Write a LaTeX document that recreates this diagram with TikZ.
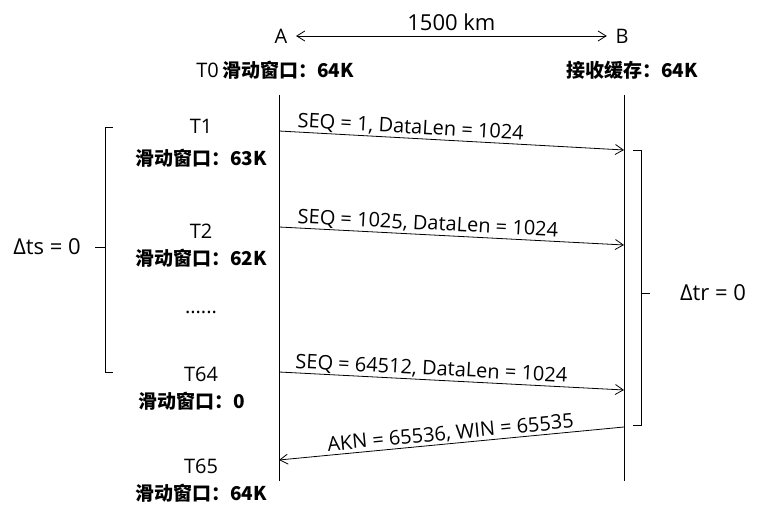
\documentclass[tikz,border=0pt]{standalone}
\usepackage{fontspec}
\setmainfont{Open Sans}
\newfontfamily\cjk{Noto Sans CJK SC}
\usetikzlibrary{
  calc, % For coordinate calculations
  arrows.meta % For arrow tips
}

\begin{document}
\begin{tikzpicture}[
    x=1pt, y=-1pt,
    font=\fontsize{20}{24}\selectfont,
    line width=0.8pt, % Default line thickness
    >={Straight Barb[length=8pt, width=10pt]}, % Default arrow tip
    lifeline/.style={}, % Style for the two time lines
    msg/.style={->}, % Style for segment arrows
    msglabel/.style={sloped, above, inner sep=1pt}, % Style for arrow texts
    bracket/.style={line width=0.7pt}, % Style for the interval brackets
    big/.style={font=\fontsize{22}{26}\selectfont}, % Larger plain texts
    win/.style={font=\fontsize{19}{22}\selectfont\cjk\bfseries}, % Window texts
  ]

  % Rahmen
  \useasboundingbox (0,0) rectangle (761,510);

  % Koordinaten der Zeitlinien
  \coordinate (A0) at (279,95);
  \coordinate (A1) at (279,481);
  \coordinate (B0) at (624,95);
  \coordinate (B1) at (624,481);

  % Koordinaten der Segmente
  \coordinate (As1) at (279,131);
  \coordinate (Br1) at (624,150);
  \coordinate (As2) at (279,227);
  \coordinate (Br2) at (624,245);
  \coordinate (As3) at (279,372);
  \coordinate (Br3) at (624,390);
  \coordinate (Bs4) at (624,427);
  \coordinate (Ar4) at (279,460);

  % Endpunkte
  \node (A) at (281,36) {A};
  \node (B) at (622,36) {B};
  \draw[<->, shorten <=5pt, shorten >=5pt] (A) -- (B)
  node[big, midway, above=2pt] (dist) {1500 km};

  % Anfangszustand
  \node (t0) at (275,70) {T0\,{\cjk\bfseries\fontsize{19}{22}\selectfont 滑动窗口：64K}};
  \node[win] (buf) at (632,70) {接收缓存：64K};

  % Zeitlinien
  \draw[lifeline] (A0) -- (A1);
  \draw[lifeline] (B0) -- (B1);

  % Zeitpunkte und Fenster
  \node (t1) at (201,126) {T1};
  \node[win] (w1) at (201,158) {滑动窗口：63K};
  \node (t2) at (201,231) {T2};
  \node[win] (w2) at (201,258) {滑动窗口：62K};
  \node (dots) at (201,312) {......};
  \node (t64) at (201,374) {T64};
  \node[win] (w64) at (192,401) {滑动窗口：0};
  \node (t65) at (201,466) {T65};
  \node[win] (w65) at (201,493) {滑动窗口：64K};

  % Segmente
  \draw[msg] (As1) -- (Br1)
  node[msglabel, pos=0.38] (seq1) {SEQ = 1, DataLen = 1024};
  \draw[msg] (As2) -- (Br2)
  node[msglabel, pos=0.43] (seq2) {SEQ = 1025, DataLen = 1024};
  \draw[msg] (As3) -- (Br3)
  node[msglabel, pos=0.44] (seq3) {SEQ = 64512, DataLen = 1024};
  \draw[msg] (Bs4) -- (Ar4)
  node[msglabel, pos=0.5] (ack) {AKN = 65536, WIN = 65535};

  % Klammern
  \draw[bracket] (113,127) -- (105,127) -- (105,372) -- (113,372);
  \coordinate (ls) at (105,247);
  \coordinate (lt) at (95,247);
  \draw[bracket] (ls) -- (lt);
  \node[big] (dts) at (47,247) {Δts = 0};
  \draw[bracket] (633,150) -- (641,150) -- (641,425) -- (633,425);
  \coordinate (rs) at (641,293);
  \coordinate (rt) at (650,293);
  \draw[bracket] (rs) -- (rt);
  \node[big] (dtr) at (713,293) {Δtr = 0};

\end{tikzpicture}
\end{document}
